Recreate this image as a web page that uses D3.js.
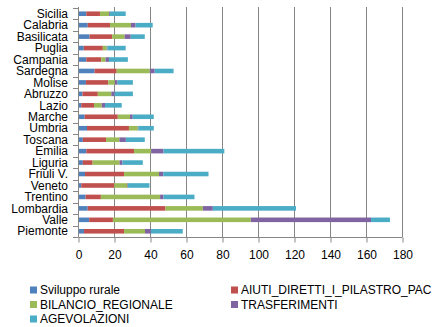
<!DOCTYPE html>
<html>
<head>
<meta charset="utf-8">
<script src="https://cdn.jsdelivr.net/npm/d3@7"></script>
<style>
  html, body { margin: 0; padding: 0; background: #fff; }
  svg { display: block; font-family: "Liberation Sans", Arial, sans-serif; }
</style>
</head>
<body>
<svg id="chart" width="440" height="327"></svg>
<script>
// Regions, top to bottom
const regions = ["Sicilia","Calabria","Basilicata","Puglia","Campania","Sardegna","Molise","Abruzzo","Lazio","Marche",
  "Umbria","Toscana","Emilia","Liguria","Friuli V.","Veneto","Trentino","Lombardia","Valle","Piemonte"];

// Funding components per region (same order as regions)
const sviluppoRurale = [4.6, 5.4, 6.4, 3.2, 4.6, 9.2, 4.4, 2.5, 1.8, 3.7, 5.0, 2.7, 4.6, 2.7, 3.9, 1.8, 4.2, 5.4, 6.2, 3.3];
const aiutiDiretti   = [7.6, 12.4, 12.6, 10.6, 8.3, 12.3, 12.4, 8.5, 7.1, 18.4, 23.3, 12.9, 26.5, 5.4, 21.7, 18.3, 8.5, 43.2, 13.2, 22.3];
const bilancioReg    = [5.1, 11.6, 6.9, 2.2, 2.4, 18.4, 3.7, 7.5, 4.3, 6.8, 4.9, 7.4, 9.5, 15.0, 19.4, 7.3, 32.9, 20.8, 76.6, 11.6];
const trasferimenti  = [0.5, 2.6, 3.4, 0.3, 1.9, 2.7, 1.5, 1.8, 1.8, 1.5, 0.3, 3.6, 6.9, 1.6, 2.4, 0.4, 1.9, 5.5, 66.8, 3.3];
const agevolazioni   = [8.7, 9.5, 7.8, 10.2, 10.5, 10.5, 8.5, 10.2, 9.3, 11.7, 8.6, 10.5, 33.8, 11.3, 25.1, 11.9, 17.2, 46.2, 10.5, 17.7];

const seriesNames = ["Sviluppo rurale","AIUTI_DIRETTI_I_PILASTRO_PAC","BILANCIO_REGIONALE","TRASFERIMENTI","AGEVOLAZIONI"];
const seriesValues = [sviluppoRurale, aiutiDiretti, bilancioReg, trasferimenti, agevolazioni];
const seriesColors = ["#4F81BD","#C0504D","#9BBB59","#8064A2","#4BACC6"];
const xTicks = [0,20,40,60,80,100,120,140,160,180];

// Rows for the stack layout
const rows = regions.map((r, i) => {
  const o = { region: r };
  seriesNames.forEach((s, k) => { o[s] = seriesValues[k][i]; });
  return o;
});

const svg = d3.select("#chart");
const plotLeft = 78, plotRight = 402, plotTop = 8, plotBottom = 237;
const gridColor = "#868686";

const x = d3.scaleLinear().domain([0, 180]).range([plotLeft, plotRight]);
const y = d3.scaleBand().domain(regions).range([plotTop, plotBottom]).paddingInner(0.6).paddingOuter(0.3);

// Vertical gridlines
svg.append("g")
  .selectAll("line")
  .data(xTicks.slice(1))
  .join("line")
  .attr("x1", d => Math.round(x(d)) + 0.5)
  .attr("x2", d => Math.round(x(d)) + 0.5)
  .attr("y1", plotTop - 1)
  .attr("y2", plotBottom)
  .attr("stroke", gridColor)
  .attr("stroke-width", 1);

// Stacked bars
const stack = d3.stack().keys(seriesNames);
const layers = stack(rows);
svg.append("g")
  .selectAll("g")
  .data(layers)
  .join("g")
  .attr("fill", (d, i) => seriesColors[i])
  .selectAll("rect")
  .data(d => d)
  .join("rect")
  .attr("x", d => x(d[0]))
  .attr("width", d => Math.max(0, x(d[1]) - x(d[0])))
  .attr("y", d => y(d.data.region))
  .attr("height", y.bandwidth());

// X axis
const xAxis = d3.axisBottom(x).tickValues(xTicks).tickSize(5).tickPadding(8).tickFormat(d3.format("d"));
const gx = svg.append("g").attr("transform", `translate(0.5,${plotBottom + 0.5})`).call(xAxis);
gx.select(".domain").attr("stroke", gridColor).attr("d", `M${plotLeft},0H${plotRight}`);
gx.selectAll(".tick line").attr("stroke", gridColor);
gx.selectAll(".tick text").attr("font-size", 12).attr("fill", "#000")
  .attr("font-family", "'Liberation Sans', Arial, sans-serif");

// Y axis line with ticks at category boundaries
const gy = svg.append("g");
gy.append("line")
  .attr("x1", plotLeft + 0.5).attr("x2", plotLeft + 0.5)
  .attr("y1", plotTop - 1).attr("y2", plotBottom + 0.5)
  .attr("stroke", gridColor);
const bounds = d3.range(regions.length + 1).map(i => plotTop + (plotBottom - plotTop) * i / regions.length);
gy.selectAll("line.tk")
  .data(bounds)
  .join("line")
  .attr("class", "tk")
  .attr("x1", plotLeft - 5).attr("x2", plotLeft)
  .attr("y1", d => Math.round(d) + 0.5).attr("y2", d => Math.round(d) + 0.5)
  .attr("stroke", gridColor);
gy.selectAll("text")
  .data(regions)
  .join("text")
  .attr("x", plotLeft - 10)
  .attr("y", d => y(d) + y.bandwidth() / 2)
  .attr("dy", "0.35em")
  .attr("text-anchor", "end")
  .attr("font-size", 12)
  .attr("fill", "#000")
  .text(d => d);

// Legend
const legendPos = [[30, 290], [231, 290], [30, 304.5], [231, 304.5], [30, 319]];
const lg = svg.append("g").selectAll("g")
  .data(seriesNames)
  .join("g")
  .attr("transform", (d, i) => `translate(${legendPos[i][0]},${legendPos[i][1]})`);
lg.append("rect")
  .attr("x", 0).attr("y", -3.5).attr("width", 7).attr("height", 7)
  .attr("fill", (d, i) => seriesColors[i]);
lg.append("text")
  .attr("x", 10).attr("y", 0).attr("dy", "0.36em")
  .attr("font-size", 12).attr("fill", "#000")
  .text(d => d);
</script>
</body>
</html>
